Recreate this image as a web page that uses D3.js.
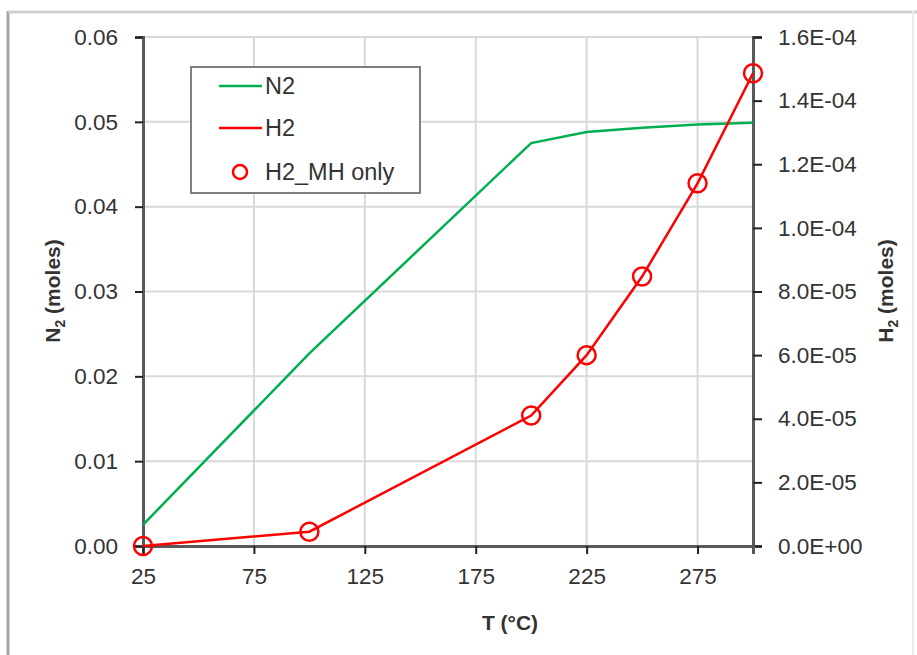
<!DOCTYPE html>
<html>
<head>
<meta charset="utf-8">
<script src="https://cdn.jsdelivr.net/npm/d3@7"></script>
<style>
  body { margin: 0; background: #fff; }
  svg text { font-family: "Liberation Sans", Arial, sans-serif; fill: #333; }
</style>
</head>
<body>
<svg id="chart" width="917" height="655"></svg>
<script>
// temperatures (°C)
var temps = [25, 100, 200, 225, 250, 275, 300];
// N2 moles (left axis)
var n2 = [0.0025, 0.0227, 0.0475, 0.0488, 0.0493, 0.0497, 0.0499];
// H2 moles (right axis)
var h2 = [0.0, 4.5e-6, 4.1e-5, 6.0e-5, 8.47e-5, 1.14e-4, 1.486e-4];
// H2_MH only markers (right axis)
var h2mh = [0.0, 4.5e-6, 4.1e-5, 6.0e-5, 8.47e-5, 1.14e-4, 1.486e-4];

var xTicks = [25, 75, 125, 175, 225, 275];
var yLeftTicks = [0, 0.01, 0.02, 0.03, 0.04, 0.05, 0.06];
var yRightTicks = [0, 2e-5, 4e-5, 6e-5, 8e-5, 1e-4, 1.2e-4, 1.4e-4, 1.6e-4];

var svg = d3.select("#chart");
var pLeft = 143, pRight = 753, pTop = 37, pBottom = 546;

var x = d3.scaleLinear().domain([25, 300]).range([pLeft, pRight]);
var yL = d3.scaleLinear().domain([0, 0.06]).range([pBottom, pTop]);
var yR = d3.scaleLinear().domain([0, 1.6e-4]).range([pBottom, pTop]);

// outer chart border
svg.append("line").attr("x1", 8).attr("x2", 8).attr("y1", 11).attr("y2", 655)
  .attr("stroke", "#a6a6a6").attr("stroke-width", 3);
svg.append("line").attr("x1", 8).attr("x2", 917).attr("y1", 12).attr("y2", 12)
  .attr("stroke", "#cfcfcf").attr("stroke-width", 3);
svg.append("line").attr("x1", 913).attr("x2", 913).attr("y1", 11).attr("y2", 655)
  .attr("stroke", "#ececec").attr("stroke-width", 2);

// gridlines
svg.append("g").selectAll("line").data(yLeftTicks).enter().append("line")
  .attr("x1", pLeft).attr("x2", pRight)
  .attr("y1", function (d) { return yL(d); }).attr("y2", function (d) { return yL(d); })
  .attr("stroke", "#d9d9d9").attr("stroke-width", 2);
svg.append("g").selectAll("line").data(xTicks.slice(1)).enter().append("line")
  .attr("y1", pTop).attr("y2", pBottom)
  .attr("x1", function (d) { return x(d); }).attr("x2", function (d) { return x(d); })
  .attr("stroke", "#d9d9d9").attr("stroke-width", 2);

function sci(v) {
  var s = v.toExponential(1).toUpperCase().split("E");
  var e = parseInt(s[1]);
  return s[0] + "E" + (e < 0 ? "-" : "+") + String(Math.abs(e)).padStart(2, "0");
}

var axL = svg.append("g").attr("transform", "translate(" + pLeft + ",0)")
  .call(d3.axisLeft(yL).tickValues(yLeftTicks).tickFormat(d3.format(".2f")).tickSizeOuter(0).tickSize(8).tickPadding(17));
var axR = svg.append("g").attr("transform", "translate(" + pRight + ",0)")
  .call(d3.axisRight(yR).tickValues(yRightTicks).tickFormat(sci).tickSizeOuter(0).tickSize(9).tickPadding(16));
var axB = svg.append("g").attr("transform", "translate(0," + pBottom + ")")
  .call(d3.axisBottom(x).tickValues(xTicks).tickFormat(d3.format("d")).tickSizeOuter(0).tickSize(8).tickPadding(14));

[axL, axR, axB].forEach(function (a) {
  a.select(".domain").attr("stroke", "#595959").attr("stroke-width", 3);
  a.selectAll(".tick line").attr("stroke", "#222").attr("stroke-width", 2);
  a.selectAll(".tick text").style("font-size", "22.5px").attr("fill", "#333");
});

// N2 line
var lineN2 = d3.line().x(function (d, i) { return x(temps[i]); }).y(function (d) { return yL(d); });
svg.append("path").datum(n2).attr("d", lineN2)
  .attr("fill", "none").attr("stroke", "#00b050").attr("stroke-width", 2.5);

// H2 line
var lineH2 = d3.line().x(function (d, i) { return x(temps[i]); }).y(function (d) { return yR(d); });
svg.append("path").datum(h2).attr("d", lineH2)
  .attr("fill", "none").attr("stroke", "#ff0000").attr("stroke-width", 2.5);

// H2_MH only markers
svg.append("g").selectAll("circle").data(h2mh).enter().append("circle")
  .attr("cx", function (d, i) { return x(temps[i]); })
  .attr("cy", function (d) { return yR(d); })
  .attr("r", 9).attr("fill", "none").attr("stroke", "#ff0000").attr("stroke-width", 2.5);

// axis titles
svg.append("text").attr("x", 510).attr("y", 630).attr("text-anchor", "middle")
  .style("font-size", "21px").style("font-weight", "bold").text("T (°C)");

var tl = svg.append("text").attr("transform", "translate(60,291) rotate(-90)")
  .attr("text-anchor", "middle").style("font-size", "21px").style("font-weight", "bold");
tl.append("tspan").text("N");
tl.append("tspan").attr("dy", 5).style("font-size", "14px").text("2");
tl.append("tspan").attr("dy", -5).text(" (moles)");

var tr = svg.append("text").attr("transform", "translate(893,291) rotate(-90)")
  .attr("text-anchor", "middle").style("font-size", "21px").style("font-weight", "bold");
tr.append("tspan").text("H");
tr.append("tspan").attr("dy", 5).style("font-size", "14px").text("2");
tr.append("tspan").attr("dy", -5).text(" (moles)");

// legend
var lg = svg.append("g");
lg.append("rect").attr("x", 191).attr("y", 67).attr("width", 229).attr("height", 126)
  .attr("fill", "#fff").attr("stroke", "#808080").attr("stroke-width", 2);
lg.append("line").attr("x1", 219).attr("x2", 262).attr("y1", 86).attr("y2", 86)
  .attr("stroke", "#00b050").attr("stroke-width", 2.5);
lg.append("text").attr("x", 265).attr("y", 94).style("font-size", "23.5px").text("N2");
lg.append("line").attr("x1", 219).attr("x2", 262).attr("y1", 128).attr("y2", 128)
  .attr("stroke", "#ff0000").attr("stroke-width", 2.5);
lg.append("text").attr("x", 265).attr("y", 136).style("font-size", "23.5px").text("H2");
lg.append("circle").attr("cx", 240).attr("cy", 172).attr("r", 7)
  .attr("fill", "none").attr("stroke", "#ff0000").attr("stroke-width", 2.5);
lg.append("text").attr("x", 265).attr("y", 180).style("font-size", "23.5px").text("H2_MH only");
</script>
</body>
</html>
